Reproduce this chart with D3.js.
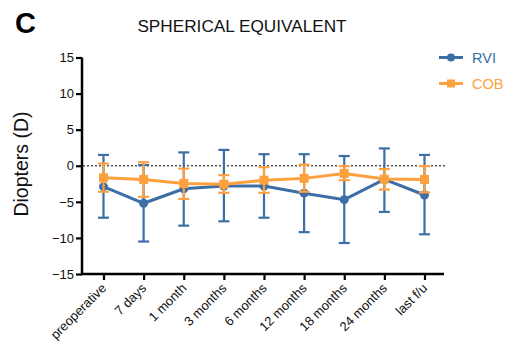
<!DOCTYPE html>
<html>
<head>
<meta charset="utf-8">
<script src="https://cdn.jsdelivr.net/npm/d3@7"></script>
<style>
  html, body { margin: 0; padding: 0; background: #fff; }
  svg { display: block; font-family: "Liberation Sans", Arial, sans-serif; }
</style>
</head>
<body>
<svg id="chart" width="505" height="346"></svg>
<script>
// Follow-up time points
const timepoints = ["preoperative", "7 days", "1 month", "3 months", "6 months",
                    "12 months", "18 months", "24 months", "last f/u"];

// RVI group: mean and error bar limits (diopters)
const rviMean  = [-2.9, -5.2, -3.2, -2.8, -2.8, -3.8, -4.7, -1.9, -4.05];
const rviUpper = [1.5, 0.1, 1.85, 2.2, 1.6, 1.6, 1.35, 2.4, 1.5];
const rviLower = [-7.2, -10.5, -8.3, -7.7, -7.2, -9.2, -10.7, -6.4, -9.5];

// COB group: mean and error bar limits (diopters)
const cobMean  = [-1.67, -1.9, -2.45, -2.55, -2.0, -1.75, -1.06, -1.85, -1.9];
const cobUpper = [0.3, 0.5, -0.4, -1.3, -0.2, 0.15, -0.05, -0.45, -0.05];
const cobLower = [-3.6, -4.3, -4.6, -3.75, -3.75, -3.6, -2.0, -3.3, -3.7];

const yTicks = [15, 10, 5, 0, -5, -10, -15];

const BLUE = "#3e6ea6";
const ORANGE = "#fca13e";

const svg = d3.select("#chart");

const plotLeft = 82, plotRight = 444, plotTop = 57.5, plotBottom = 274;

const x = d3.scalePoint().domain(timepoints).range([103.5, 424.5]);
const y = d3.scaleLinear().domain([-15, 15]).range([plotBottom, plotTop]);

// Panel letter and title
svg.append("text").attr("x", 15).attr("y", 33)
  .attr("font-size", 29).attr("font-weight", "bold").attr("fill", "#000").text("C");
svg.append("text").attr("x", 242).attr("y", 32).attr("text-anchor", "middle")
  .attr("font-size", 17.2).attr("fill", "#111").text("SPHERICAL EQUIVALENT");

// Y axis
const yAxis = svg.append("g").attr("transform", `translate(${plotLeft},0)`)
  .call(d3.axisLeft(y).tickValues(yTicks).tickSize(6).tickPadding(2).tickFormat(d3.format("d")));
yAxis.select(".domain").attr("stroke", "#000").attr("stroke-width", 2.5)
  .attr("d", `M0,${plotTop}V${plotBottom}`);
yAxis.selectAll(".tick line").attr("stroke", "#000").attr("stroke-width", 2.2);
yAxis.selectAll(".tick text").attr("font-size", 13).attr("fill", "#111")
  .attr("font-family", "Liberation Sans, Arial, sans-serif");

// X axis with slanted labels
const xAxis = svg.append("g").attr("transform", `translate(0,${plotBottom})`)
  .call(d3.axisBottom(x).tickSize(6));
xAxis.select(".domain").attr("stroke", "#000").attr("stroke-width", 2.5)
  .attr("d", `M${plotLeft - 1},0H${plotRight}`);
xAxis.selectAll(".tick line").attr("stroke", "#000").attr("stroke-width", 2.2);
xAxis.selectAll(".tick text")
  .attr("font-size", 13).attr("fill", "#111")
  .attr("font-family", "Liberation Sans, Arial, sans-serif")
  .attr("text-anchor", "end")
  .attr("x", 0).attr("y", 0).attr("dy", 0)
  .attr("transform", "translate(3,15) rotate(-45)");

// Y axis title
svg.append("text")
  .attr("transform", "translate(28,164) rotate(-90)")
  .attr("text-anchor", "middle").attr("font-size", 19.5).attr("fill", "#111")
  .text("Diopters (D)");

// Zero reference line
svg.append("line")
  .attr("x1", plotLeft + 1).attr("x2", 445)
  .attr("y1", y(0)).attr("y2", y(0))
  .attr("stroke", "#555").attr("stroke-width", 1.5).attr("stroke-dasharray", "2,2");

function drawSeries(mean, upper, lower, color, shape) {
  const g = svg.append("g");
  const pts = timepoints.map((t, i) => ({ t, m: mean[i], u: upper[i], l: lower[i] }));
  // error bars
  g.selectAll("line.eb").data(pts).join("line").attr("class", "eb")
    .attr("x1", d => x(d.t)).attr("x2", d => x(d.t))
    .attr("y1", d => y(d.u)).attr("y2", d => y(d.l))
    .attr("stroke", color).attr("stroke-width", 2.2);
  ["u", "l"].forEach(k => {
    g.selectAll("line.cap" + k).data(pts).join("line").attr("class", "cap" + k)
      .attr("x1", d => x(d.t) - 5.5).attr("x2", d => x(d.t) + 5.5)
      .attr("y1", d => y(d[k])).attr("y2", d => y(d[k]))
      .attr("stroke", color).attr("stroke-width", 2.2);
  });
  // connecting line
  g.append("path").datum(pts)
    .attr("d", d3.line().x(d => x(d.t)).y(d => y(d.m)))
    .attr("fill", "none").attr("stroke", color).attr("stroke-width", 3);
  // markers
  if (shape === "circle") {
    g.selectAll("circle").data(pts).join("circle")
      .attr("cx", d => x(d.t)).attr("cy", d => y(d.m)).attr("r", 4.5).attr("fill", color);
  } else {
    g.selectAll("rect").data(pts).join("rect")
      .attr("x", d => x(d.t) - 4.5).attr("y", d => y(d.m) - 4.5)
      .attr("width", 9).attr("height", 9).attr("fill", color);
  }
}

drawSeries(rviMean, rviUpper, rviLower, BLUE, "circle");
drawSeries(cobMean, cobUpper, cobLower, ORANGE, "square");

// Legend
const legend = [
  { name: "RVI", color: BLUE, shape: "circle", yy: 57.5 },
  { name: "COB", color: ORANGE, shape: "square", yy: 83.5 }
];
legend.forEach(L => {
  svg.append("line").attr("x1", 439).attr("x2", 463).attr("y1", L.yy).attr("y2", L.yy)
    .attr("stroke", L.color).attr("stroke-width", 3);
  if (L.shape === "circle") {
    svg.append("circle").attr("cx", 451).attr("cy", L.yy).attr("r", 4).attr("fill", L.color);
  } else {
    svg.append("rect").attr("x", 447).attr("y", L.yy - 4).attr("width", 8).attr("height", 8).attr("fill", L.color);
  }
  svg.append("text").attr("x", 472).attr("y", L.yy + 5).attr("font-size", 14.5)
    .attr("fill", L.color).text(L.name);
});
</script>
</body>
</html>
